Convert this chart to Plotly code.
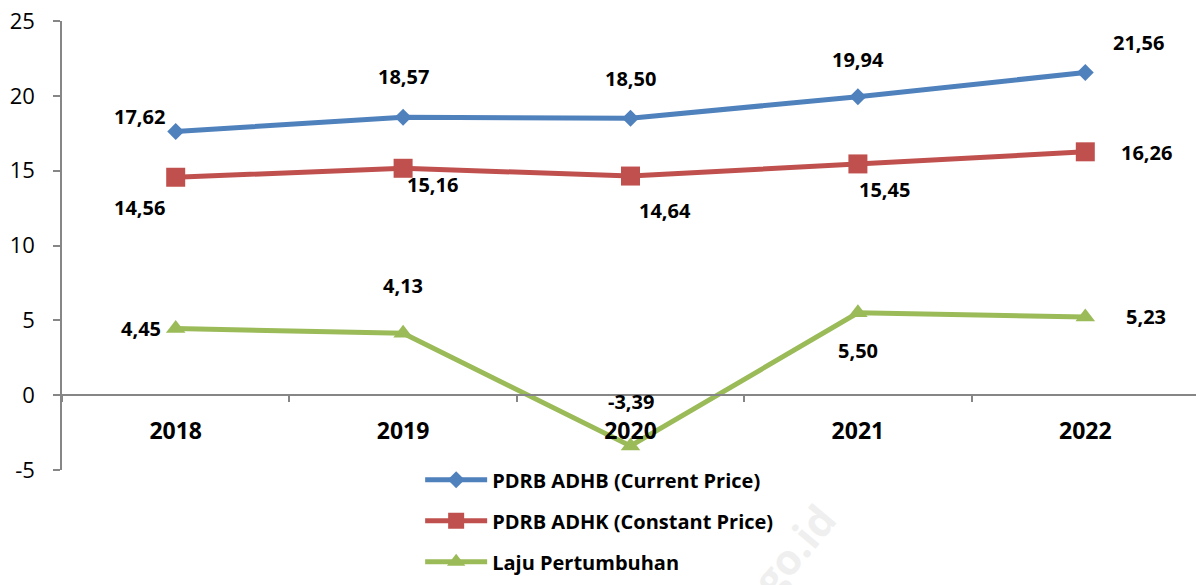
import plotly.graph_objects as go

years = ["2018", "2019", "2020", "2021", "2022"]
adhb = [17.62, 18.57, 18.50, 19.94, 21.56]
adhk = [14.56, 15.16, 14.64, 15.45, 16.26]
laju = [4.45, 4.13, -3.39, 5.50, 5.23]
ytick_vals = [-5, 0, 5, 10, 15, 20, 25]
ytick_text = ["-5", "0", "5", "10", "15", "20", "25"]

names = ["PDRB ADHB (Current Price)", "PDRB ADHK (Constant Price)", "Laju Pertumbuhan"]
colors = ["#4F81BD", "#C0504D", "#9BBB59"]
symbols = ["diamond", "square", "triangle-up"]
msizes = [13, 19, 17]
series = [adhb, adhk, laju]

# label offsets (xshift, yshift) in px per point
offsets = [
    [(-36, 15), (0, 41), (0, 40), (0, 37), (53, 30)],
    [(-36, -30), (29, -16), (34, -34), (27, -26), (61, -1)],
    [(-35, 0), (0, 48), (0, 44), (0, -38), (61, 0)],
]

FONT = "Open Sans"
fig = go.Figure()
for i in range(3):
    fig.add_trace(go.Scatter(
        x=years, y=series[i], name="<b>" + names[i] + "</b>", mode="lines+markers",
        line=dict(color=colors[i], width=5),
        marker=dict(symbol=symbols[i], size=msizes[i], color=colors[i]),
        legendgroup=str(i),
    ))

annotations = []
for i in range(3):
    for j, v in enumerate(series[i]):
        dx, dy = offsets[i][j]
        annotations.append(dict(
            x=j, y=v, xref="x", yref="y",
            text="<b>" + f"{v:.2f}".replace(".", ",") + "</b>",
            showarrow=False, xshift=dx, yshift=dy,
            font=dict(family=FONT, size=20, color="black"),
        ))

annotations.append(dict(
    x=0.643, y=-0.31, xref="paper", yref="paper", text="<b>go.id</b>",
    showarrow=False, textangle=-50, font=dict(family=FONT, size=42, color="#efefef"),
))

fig.update_layout(
    width=1196, height=577,
    margin=dict(l=54, r=5, t=13, b=114),
    paper_bgcolor="white", plot_bgcolor="white",
    font=dict(family=FONT, size=19, color="black"),
    showlegend=True,
    legend=dict(
        x=0.315, y=-0.245, xanchor="left", yanchor="bottom",
        traceorder="grouped", tracegroupgap=12,
        font=dict(family=FONT, size=20, color="black"),
        itemwidth=62, bgcolor="rgba(0,0,0,0)",
    ),
    annotations=annotations,
)

fig.update_xaxes(
    type="category", range=[-0.5, 4.5],
    anchor="free", position=1/6, automargin=False,
    showline=True, linecolor="#868686", linewidth=1.5,
    ticks="outside", tickson="boundaries", ticklen=6, tickcolor="#868686", tickwidth=1.5,
    showgrid=False, zeroline=False,
    tickfont=dict(family=FONT, size=23, color="black"),
    tickprefix="<b>", ticksuffix="</b>",
    ticklabelstandoff=15,
)
fig.update_yaxes(
    range=[-5, 25], tickvals=ytick_vals, ticktext=ytick_text, automargin=False,
    showline=True, linecolor="#868686", linewidth=1.5,
    ticks="outside", ticklen=7, tickcolor="#868686", tickwidth=1.5,
    showgrid=False, zeroline=False,
    tickfont=dict(family=FONT, size=22, color="black"),
    ticklabelstandoff=14, ticklabeloverflow="allow",
)

fig.write_html("out.html")
